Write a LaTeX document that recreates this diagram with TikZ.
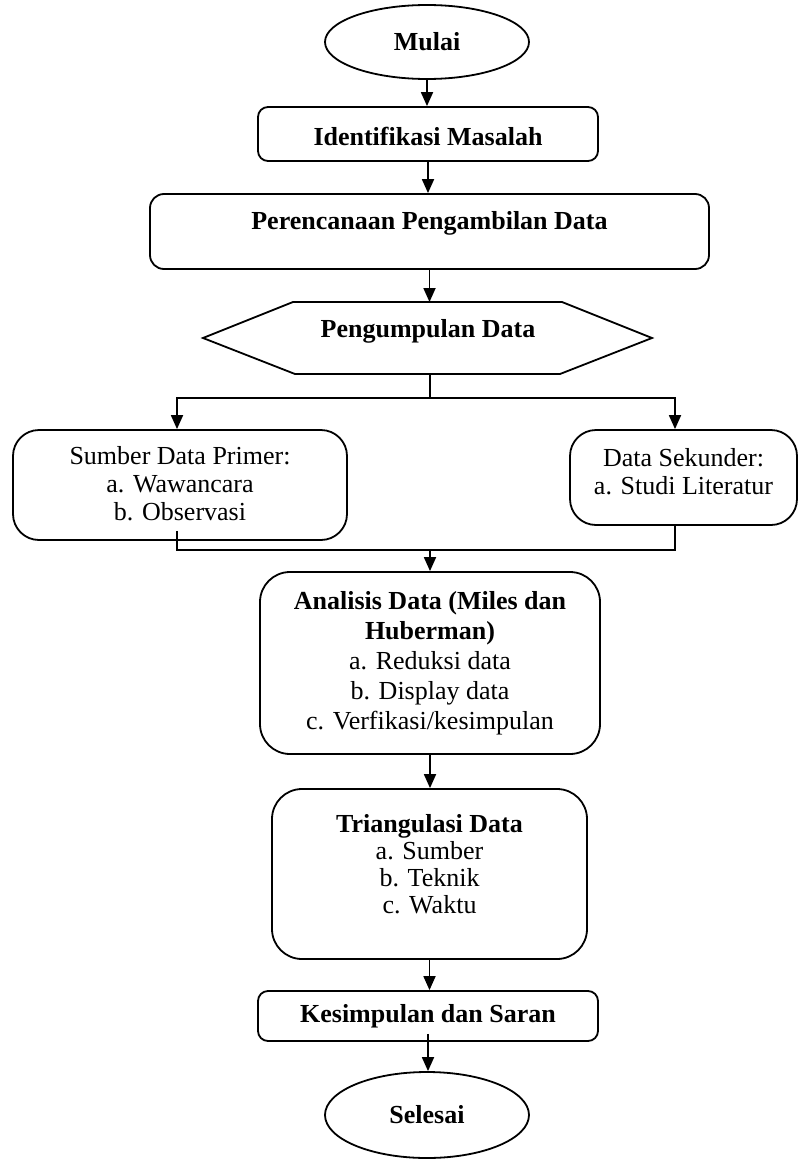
\documentclass[tikz,border=0pt]{standalone}
\usepackage{fontspec}
\setmainfont{Liberation Serif}
\usetikzlibrary{shapes.geometric,arrows.meta}
\begin{document}
\begin{tikzpicture}[x=1pt,y=-1pt,
  box/.style={draw,line width=1.8pt,rounded corners=#1,inner sep=0pt},
  box/.default=12pt,
  txt/.style={font=\fontsize{26}{28}\selectfont,align=center,inner sep=0pt},
  btxt/.style={txt,font=\fontsize{26}{28}\selectfont\bfseries},
  oval/.style={draw,ellipse,line width=1.8pt,inner sep=0pt,minimum width=204pt,font=\fontsize{26}{28}\selectfont\bfseries},
  arr/.style={line width=1.8pt,-{Triangle[length=14pt,width=12pt]}},
  ln/.style={line width=1.8pt}]
\useasboundingbox (0,0) rectangle (810,1164);

% start
\node[oval,minimum height=74pt] (mulai) at (427,42) {Mulai};

% identifikasi
\node[box=10pt,minimum width=340pt,minimum height=54pt] (ident) at (428,134) {};
\node[btxt] (identT) at (428,136) {Identifikasi Masalah};

% perencanaan
\node[box=14pt,minimum width=559pt,minimum height=75pt] (peren) at (429.5,231.5) {};
\node[btxt] (perenT) at (429.5,223) {Perencanaan Pengambilan Data};

% pengumpulan (hexagon)
\coordinate (hexT) at (429.5,302);
\coordinate (hexB) at (430,374);
\draw[ln,line join=miter] (203,338) -- (293,302) -- (562,302) -- (652,338) -- (560,374) -- (295,374) -- cycle;
\node[btxt] (kumpul) at (428,331) {Pengumpulan Data};

% data sources
\node[box=26pt,minimum width=334pt,minimum height=110pt] (sumber) at (180,485) {};
\node[txt,font=\fontsize{26}{28}\selectfont] (sumberT) at (180,484) {Sumber Data Primer:\\a. Wawancara\\b. Observasi};
\node[box=26pt,minimum width=227pt,minimum height=95pt] (sekunder) at (683.5,477.5) {};
\node[txt] (sekunderT) at (683.5,472) {Data Sekunder:\\a. Studi Literatur};

% analisis
\node[box=30pt,minimum width=340pt,minimum height=182pt] (analisis) at (430,663) {};
\node[txt,font=\fontsize{26}{30}\selectfont] (analisisT) at (430,663) {\textbf{Analisis Data (Miles dan}\\\textbf{Huberman)}\\a. Reduksi data\\b. Display data\\c. Verfikasi/kesimpulan};

% triangulasi
\node[box=30pt,minimum width=315pt,minimum height=170pt] (triang) at (429.5,874) {};
\node[txt,font=\fontsize{26}{27}\selectfont] (triangT) at (429.5,864) {\textbf{Triangulasi Data}\\a. Sumber\\b. Teknik\\c. Waktu};

% kesimpulan
\node[box=10pt,minimum width=340pt,minimum height=50pt] (kesimp) at (428,1016) {};
\node[btxt] (kesimpT) at (428,1016) {Kesimpulan dan Saran};

% end
\node[oval,minimum height=86pt] (selesai) at (427,1115) {Selesai};

% connectors
\coordinate (split) at (430,398);
\coordinate (join) at (430,550);
\draw[arr] (mulai.south) -- (mulai.south |- ident.north);
\draw[arr] (ident.south) -- (ident.south |- peren.north);
\draw[arr] (peren.south) -- (hexT);
\draw[ln] (hexB) -- (split);
\draw[arr] (split) -| ([xshift=-3pt]sumber.north);
\draw[arr] (split) -| ([xshift=-8.5pt]sekunder.north);
\draw[ln] ([xshift=-3pt,yshift=10pt]sumber.south) |- (join) -| ([xshift=-8.5pt]sekunder.south);
\draw[arr] (join) -- (analisis.north);
\draw[arr] (analisis.south) -- (analisis.south |- triang.north);
\draw[arr] (triang.south) -- (triang.south |- kesimp.north);
\draw[arr] ([yshift=8pt]kesimp.south) -- (kesimp.south |- selesai.north);
\end{tikzpicture}
\end{document}
